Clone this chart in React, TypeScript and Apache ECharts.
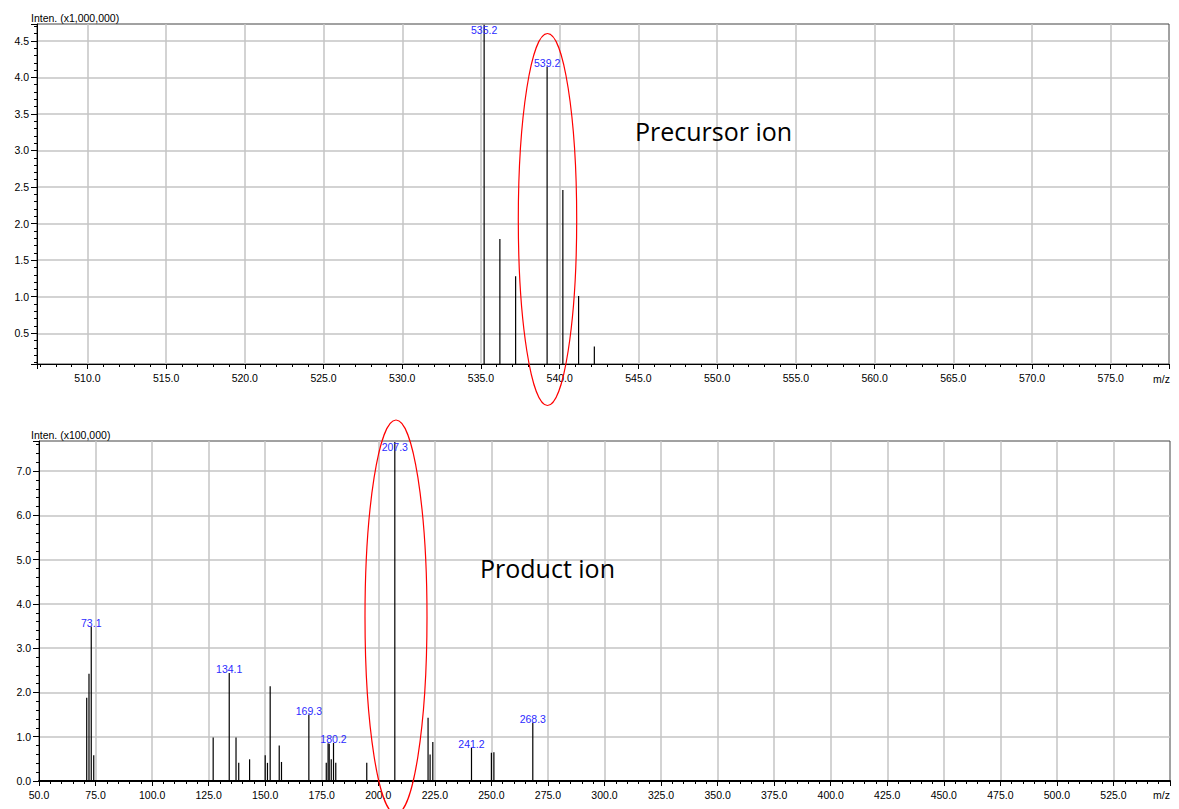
import React, { useEffect, useRef } from "react";
import * as echarts from "echarts";

// ---- Precursor ion spectrum (top) ----
const precursorMz = [535.2, 536.2, 537.2, 539.2, 540.2, 541.2, 542.2];
const precursorIntensity = [4.72, 1.79, 1.28, 4.15, 2.46, 1.01, 0.32]; // x1,000,000
const precursorLabeled = [535.2, 539.2];
const precursorXRange = [506.8, 578.7];
const precursorYRange = [0.08, 4.73];
const precursorXStep = 5;
const precursorYStep = 0.5;

// ---- Product ion spectrum (bottom) ----
const productMz = [
  71.1, 72.1, 73.1, 74.2, 127.0, 134.1, 137.1, 138.3, 143.1, 150.0, 151.0, 152.2,
  156.2, 157.2, 169.3, 177.0, 177.8, 178.3, 179.2, 180.2, 181.2, 194.9, 207.3,
  222.0, 222.9, 224.1, 241.2, 250.0, 251.1, 268.3,
];
const productIntensity = [
  1.88, 2.42, 3.49, 0.58, 0.98, 2.44, 0.98, 0.41, 0.49, 0.58, 0.41, 2.14,
  0.8, 0.43, 1.5, 0.41, 0.85, 0.84, 0.49, 0.86, 0.41, 0.41, 7.66,
  1.43, 0.6, 0.88, 0.75, 0.64, 0.65, 1.32,
]; // x100,000
const productLabeled = [73.1, 134.1, 169.3, 180.2, 207.3, 241.2, 268.3];
const productXRange = [50, 550];
const productYRange = [0, 7.68];
const productXStep = 25;
const productYStep = 1;

const FONT = "Liberation Sans, Arial, sans-serif";
const LABEL_BLUE = "#2b2bff";

function peakData(mz: number[], inten: number[], labeled: number[], yMax: number) {
  return mz.map((m, i) => {
    const v = inten[i];
    const isLab = labeled.includes(m);
    const atTop = v >= yMax - 0.1;
    return {
      value: [m, v],
      label: isLab
        ? atTop
          ? { show: true, position: "insideTop", distance: 0 }
          : { show: true, position: "top", distance: -2 }
        : { show: false },
    };
  });
}

function xAxisOpt(gridIndex: number, range: number[], step: number, lineWidth: number, showMin: boolean) {
  return {
    type: "value",
    gridIndex,
    min: range[0],
    max: range[1],
    minInterval: step,
    maxInterval: step,
    splitNumber: Math.round((range[1] - range[0]) / step),
    axisLine: { show: true, onZero: false, lineStyle: { color: "#000", width: lineWidth } },
    axisTick: { show: true, length: 5, lineStyle: { color: "#000", width: 1 } },
    minorTick: { show: true, splitNumber: 5, length: 3, lineStyle: { color: "#000", width: 1 } },
    splitLine: {
      show: true,
      showMinLine: false,
      showMaxLine: false,
      lineStyle: { color: "#c4c4c4", width: 1.5 },
    },
    axisLabel: {
      show: true,
      showMinLabel: showMin,
      showMaxLabel: false,
      margin: 8,
      color: "#000",
      fontSize: 10.5,
      fontFamily: FONT,
      formatter: (v: number) => v.toFixed(1),
    },
  };
}

function yAxisOpt(gridIndex: number, range: number[], step: number, showMin: boolean) {
  return {
    type: "value",
    gridIndex,
    min: range[0],
    max: range[1],
    minInterval: step,
    maxInterval: step,
    splitNumber: Math.round((range[1] - range[0]) / step),
    axisLine: { show: true, onZero: false, lineStyle: { color: "#000", width: 1 } },
    axisTick: { show: true, length: 6, lineStyle: { color: "#000", width: 1 } },
    minorTick: { show: true, splitNumber: 5, length: 3, lineStyle: { color: "#000", width: 1 } },
    splitLine: {
      show: true,
      showMinLine: false,
      showMaxLine: false,
      lineStyle: { color: "#c4c4c4", width: 1.5 },
    },
    axisLabel: {
      show: true,
      showMinLabel: showMin,
      showMaxLabel: false,
      margin: 8,
      color: "#000",
      fontSize: 10.5,
      fontFamily: FONT,
      formatter: (v: number) => v.toFixed(1),
    },
  };
}

function peakSeries(idx: number, mz: number[], inten: number[], labeled: number[], yMax: number) {
  return {
    type: "bar",
    xAxisIndex: idx,
    yAxisIndex: idx,
    barWidth: 1.2,
    clip: true,
    itemStyle: { color: "#000" },
    label: {
      color: LABEL_BLUE,
      fontSize: 10.5,
      fontFamily: FONT,
      formatter: (p: any) => Number(p.value[0]).toFixed(1),
    },
    data: peakData(mz, inten, labeled, yMax),
  };
}

export default function App() {
  const ref = useRef<HTMLDivElement>(null);
  useEffect(() => {
    document.body.style.margin = "0";
    if (!ref.current) return;
    const chart = echarts.init(ref.current, undefined, { renderer: "svg" });
    const small = (text: string, x: number, y: number) => ({
      type: "text",
      x,
      y,
      z: 100,
      style: { text, fill: "#000", fontSize: 10.5, fontFamily: FONT, align: "left", verticalAlign: "middle" },
    });
    chart.setOption({
      animation: false,
      backgroundColor: "#fff",
      grid: [
        { left: 37, top: 24, width: 1132, height: 340, show: true, borderColor: "#444", borderWidth: 1, backgroundColor: "transparent" },
        { left: 39, top: 441, width: 1131, height: 340, show: true, borderColor: "#444", borderWidth: 1, backgroundColor: "transparent" },
      ],
      xAxis: [
        xAxisOpt(0, precursorXRange, precursorXStep, 1, false),
        xAxisOpt(1, productXRange, productXStep, 2, true),
      ],
      yAxis: [
        yAxisOpt(0, precursorYRange, precursorYStep, false),
        yAxisOpt(1, productYRange, productYStep, true),
      ],
      series: [
        peakSeries(0, precursorMz, precursorIntensity, precursorLabeled, precursorYRange[1]),
        peakSeries(1, productMz, productIntensity, productLabeled, productYRange[1]),
      ],
      graphic: [
        small("Inten. (x1,000,000)", 31, 18),
        small("Inten. (x100,000)", 31, 435),
        small("m/z", 1153, 379),
        small("m/z", 1153, 794.5),
        {
          type: "text",
          x: 635,
          y: 131,
          z: 100,
          style: { text: "Precursor ion", fill: "#000", fontSize: 25, fontFamily: "Open Sans", align: "left", verticalAlign: "middle" },
        },
        {
          type: "text",
          x: 480,
          y: 568,
          z: 100,
          style: { text: "Product ion", fill: "#000", fontSize: 25, fontFamily: "Open Sans", align: "left", verticalAlign: "middle" },
        },
        {
          type: "ellipse",
          z: 100,
          shape: { cx: 547.5, cy: 219.5, rx: 29.2, ry: 186 },
          style: { fill: "none", stroke: "#ff0000", lineWidth: 1.2 },
        },
        {
          type: "ellipse",
          z: 100,
          shape: { cx: 396, cy: 617, rx: 31, ry: 197 },
          style: { fill: "none", stroke: "#ff0000", lineWidth: 1.2 },
        },
      ],
    });
    return () => chart.dispose();
  }, []);
  return <div ref={ref} style={{ width: 1179, height: 809 }} />;
}
